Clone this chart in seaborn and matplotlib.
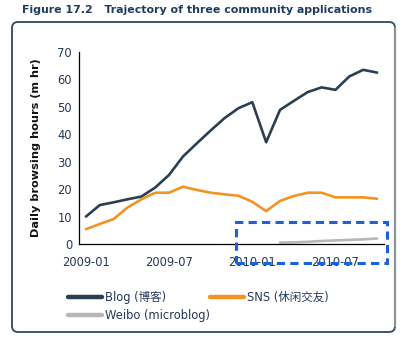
import numpy as np
import pandas as pd
import matplotlib
matplotlib.use("Agg")
import matplotlib.pyplot as plt
from matplotlib.patches import FancyBboxPatch, Rectangle
from matplotlib.lines import Line2D
from matplotlib.transforms import IdentityTransform
import seaborn as sns

# ---- data ----
months = pd.date_range("2009-01-01", "2010-10-01", freq="MS").strftime("%Y-%m").tolist()
blog = [10, 14.2, 15.2, 16.3, 17.3, 20.6, 25.2, 31.9, 36.7, 41.4, 45.9, 49.5,
        51.7, 37.1, 48.9, 52.2, 55.4, 57.1, 56.2, 61.1, 63.5, 62.5]
sns_vals = [5.4, 7.3, 9.1, 13.3, 16.3, 18.7, 18.7, 20.9, 19.7, 18.7, 18.1, 17.6,
            15.4, 12.0, 15.7, 17.5, 18.7, 18.7, 17.0, 17.0, 17.0, 16.5]
weibo = [np.nan] * 14 + [0.5, 0.6, 0.8, 1.1, 1.3, 1.5, 1.7, 2.0]
series_names = ["Blog (博客)", "SNS (休闲交友)", "Weibo (microblog)"]
tick_labels = ["2009-01", "2009-07", "2010-01", "2010-07"]
yticks = [0, 10, 20, 30, 40, 50, 60, 70]
title = "Figure 17.2   Trajectory of three community applications"
ylabel = "Daily browsing hours (m hr)"

colors = ["#2b3e52", "#f29423", "#b4b7bb"]
navy = "#24395a"

sns.set_style("white")
plt.rcParams["font.family"] = ["DejaVu Sans", "Noto Sans CJK SC"]

df = pd.DataFrame({"month": months, "idx": np.arange(len(months)),
                   series_names[0]: blog, series_names[1]: sns_vals,
                   series_names[2]: weibo})

fig = plt.figure(figsize=(4.1, 3.4), dpi=100)
ax = fig.add_axes([79 / 410, 1 - 244 / 340, (384 - 79) / 410, (244 - 52) / 340])

handles = []
for name, c in zip(series_names, colors):
    sns.lineplot(data=df, x="idx", y=name, ax=ax, color=c, linewidth=1.9,
                 legend=False)
    handles.append(Line2D([0], [0], color=c, lw=3.2, solid_capstyle="round"))

ax.set_xlim(-0.5, len(months) - 0.5)
ax.set_ylim(0, 70)
ax.set_yticks(yticks)
ax.set_xticks([months.index(t) for t in tick_labels])
ax.set_xticklabels(tick_labels)
ax.set_xticks(np.arange(-0.5, len(months), 1.0), minor=True)
ax.tick_params(axis="x", which="major", length=0, pad=9, labelsize=8.3, labelcolor=navy)
ax.tick_params(axis="x", which="minor", direction="in", length=4, width=0.8, color="black")
ax.tick_params(axis="y", which="major", direction="out", length=3, width=0.8,
               color="black", labelsize=8.3, labelcolor=navy, pad=2)
for s in ["top", "right"]:
    ax.spines[s].set_visible(False)
for s in ["left", "bottom"]:
    ax.spines[s].set_color("black")
    ax.spines[s].set_linewidth(0.9)
ax.set_xlabel("")
ax.set_ylabel(ylabel, fontsize=8.1, fontweight="bold", color="#111111", labelpad=12)

# legend
order = [0, 2, 1]
leg = fig.legend([handles[i] for i in order], [series_names[i] for i in order],
                 ncol=2, loc="upper left", bbox_to_anchor=(62 / 410, 1 - 285 / 340),
                 frameon=False, fontsize=8.3, handlelength=3.0, handletextpad=0.2,
                 columnspacing=0.0, labelspacing=0.45, borderpad=0)
for t in leg.get_texts():
    t.set_color(navy)

# title
fig.text(22 / 410, 1 - 10 / 340, title, fontsize=7.9, fontweight="bold",
         color="#1f3b5e", ha="left", va="center")

# rounded frame (pixel coords)
frame = FancyBboxPatch((12, 340 - 332), 383, 310, boxstyle="round,pad=0,rounding_size=6",
                       transform=IdentityTransform(), fill=False, edgecolor="#34475c",
                       linewidth=1.3, zorder=0)
fig.patches.append(frame)
fig.add_artist(Line2D([395, 395], [340 - 326, 340 - 28], transform=IdentityTransform(),
                      color="#8e939b", lw=1.6))

# dashed highlight box
rect = Rectangle((236 / 410, 1 - 263 / 340), (387 - 236) / 410, (263 - 222) / 340,
                 transform=fig.transFigure, fill=False, edgecolor="#1a62d6",
                 linewidth=2.2, linestyle=(0, (2.7, 1.7)), zorder=10, clip_on=False)
fig.add_artist(rect)

fig.savefig("out.png", dpi=100)
